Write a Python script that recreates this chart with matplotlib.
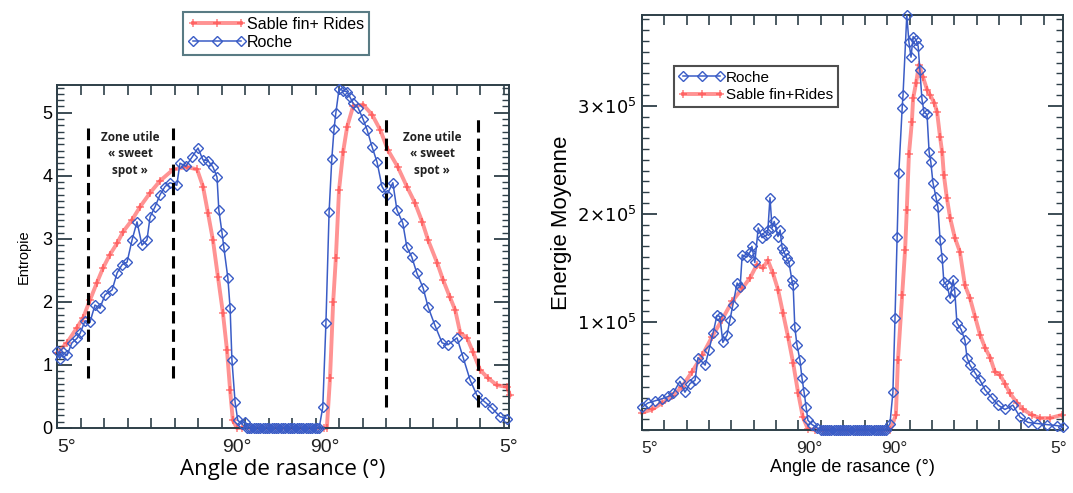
import matplotlib.pyplot as plt
from matplotlib.ticker import MultipleLocator

plt.rcParams['font.family'] = ['Liberation Sans', 'DejaVu Sans']

# x runs in arbitrary position units (0..100) across each panel:
# first half goes 5 deg -> 90 deg, second half 90 deg -> 5 deg
tick_pos_left = [2.2, 39.8, 59.3, 100.0]
tick_pos_right = [1.9, 39.7, 59.9, 99.0]
tick_labels = ['5°', '90°', '90°', '5°']

# ---- Entropie panel ----
ent_roche_x = [0, 0.6, 1.3, 2.2, 3.3, 4.4, 5.1, 6.2, 7.3, 8.4, 9.5, 10.6, 12.2, 13.3,
               14.4, 15.5, 16.6, 17.7, 18.8, 19.9, 20.6, 21.7, 22.8, 23.9, 25.0, 26.5,
               27.2, 28.5, 29.9, 31.2, 32.3, 33.4, 34.5, 35.4, 35.8, 36.5, 36.9, 37.8,
               38.3, 38.7, 39.4, 40.0, 40.9, 41.5, 42, 42.5, 43, 43.5, 44, 44.5, 45,
               45.5, 46, 46.5, 47, 47.5, 48, 48.5, 49, 49.5, 50, 50.5, 51, 51.5, 52,
               52.5, 53, 53.5, 54, 54.5, 55, 55.5, 56, 56.5, 57, 57.5, 58,
               58.8, 59.5, 60.2, 60.8, 61.3, 61.7, 62.4,
               63.3, 64.2, 64.8, 65.5, 66.6, 67.7, 68.6, 69.7, 70.8, 71.9, 73.0, 74.3,
               75.2, 76.5, 77.4, 78.5, 79.6, 81.0, 82.1, 83.6, 85.2, 86.5, 88.5, 89.8,
               91.4, 92.9, 94.7, 96.2, 98.0, 99.6]
ent_roche_y = [1.22, 1.1, 1.2, 1.15, 1.35, 1.42, 1.5, 1.7, 1.68, 1.95, 1.9, 2.11, 2.19, 2.46,
               2.59, 2.63, 2.98, 3.27, 2.9, 2.98, 3.35, 3.51, 3.7, 3.83, 3.89, 3.85,
               4.2, 4.15, 4.3, 4.44, 4.25, 4.24, 4.14, 3.98, 3.46, 3.1, 2.87, 2.38,
               1.9, 1.08, 0.41, 0.12, 0.07, 0.1, 0, 0, 0, 0, 0, 0, 0,
               0, 0, 0, 0, 0, 0, 0, 0, 0, 0, 0, 0, 0, 0,
               0, 0, 0, 0, 0, 0, 0, 0, 0, 0, 0, 0,
               0.33, 1.67, 3.43, 4.27, 4.75, 5.0, 5.38,
               5.35, 5.33, 5.25, 5.15, 5.08, 4.9, 4.73, 4.46, 4.22, 3.83, 3.7, 3.89,
               3.46, 3.25, 2.87, 2.71, 2.46, 2.22, 1.92, 1.63, 1.35, 1.32, 1.43, 1.13,
               0.76, 0.52, 0.41, 0.32, 0.18, 0.15]

ent_sable_x = [0, 2.2, 4.4, 5.8, 7.3, 8.8, 10.2, 11.7, 13.3, 14.6, 16.6, 18.4, 20.6, 22.8,
               25.7, 28.8, 31.0, 32.3, 33.4, 34.5, 35.6, 36.7, 37.6, 38.3, 38.9, 39.8,
               41, 43, 45, 47, 49, 51, 53, 55, 57, 59, 59.7, 60.4, 61.1, 61.7, 62.4,
               63.3, 64.2, 65.5, 67.7, 69.7, 71.5, 73.2, 75.4, 77.4, 79.2, 80.8, 82.1,
               84.1, 85.4, 86.9, 88.1, 89.2, 90.7, 92.0, 93.6, 95.4, 97.3, 99.6, 100.2]
ent_sable_y = [1.19, 1.35, 1.59, 1.75, 2.03, 2.3, 2.54, 2.75, 2.93, 3.11, 3.3, 3.51, 3.73, 3.92,
               4.1, 4.14, 4.1, 3.83, 3.41, 2.98, 2.4, 1.83, 1.24, 0.6, 0.12, 0.0,
               0, 0, 0, 0, 0, 0, 0, 0, 0, 0, 0.0, 0.79, 2.0, 2.7, 3.78,
               4.38, 4.78, 5.1, 5.13, 4.97, 4.73, 4.41, 4.14, 3.83, 3.57, 3.27, 2.98,
               2.62, 2.35, 2.08, 1.87, 1.51, 1.43, 1.21, 0.92, 0.79, 0.68, 0.65, 0.52]

zone_left = [6.9, 25.7]
zone_right = [72.8, 93.1]

# ---- Energie Moyenne panel (values in units of 1e5) ----
en_roche_x = [0, 1.4, 3.1, 4.8, 6.2, 7.4, 9.0, 10.2, 11.4, 12.6, 13.3, 15.0, 15.9, 16.9,
              17.8, 18.5, 19.2, 20.2, 20.9, 21.6, 22.6, 23.3, 23.8, 24.9, 25.7, 26.1,
              26.8, 27.6, 28.5, 29.5, 29.9, 30.4, 30.9, 31.4, 32.3, 32.8, 33.3, 33.7,
              34.4, 34.9, 35.6, 35.9, 36.3, 36.8, 37.5, 38.0, 38.5, 39.0, 39.4, 40.4,
              41.6, 42.5, 43, 43.5, 44, 44.5, 45, 45.5, 46, 46.5, 47, 47.5, 48, 48.5,
              49, 49.5, 50, 50.5, 51, 51.5, 52, 52.5, 53, 53.5, 54, 54.5, 55, 55.5,
              56, 56.5, 57, 57.5, 58,
              58.9, 59.6, 60.1, 60.6, 61.0, 61.8, 62.0, 62.9, 63.4, 63.9, 64.4, 65.1,
              65.6, 66.0, 66.5, 67.0, 67.7, 68.2, 68.6, 69.1, 69.8, 70.3, 70.8, 71.3,
              71.7, 72.4, 73.2, 73.9, 74.3, 74.8, 75.8, 76.7, 77.2, 77.9, 79.1, 80.3,
              81.5, 83.1, 84.6, 86.2, 88.1, 89.8, 91.7, 93.8, 96.2, 98.6, 100]
en_roche_y = [0.21, 0.25, 0.27, 0.29, 0.31, 0.34, 0.45, 0.35, 0.43, 0.46, 0.67, 0.6, 0.74, 0.9,
              1.06, 1.05, 0.81, 0.88, 1.02, 1.16, 1.36, 1.32, 1.62, 1.6, 1.65, 1.7,
              1.55, 1.87, 1.78, 1.8, 1.85, 2.15, 1.87, 1.93, 1.79, 1.85, 1.68, 1.65,
              1.59, 1.55, 1.39, 1.34, 0.95, 0.79, 0.65, 0.48, 0.35, 0.21, 0.09, 0.05,
              0.02, 0, 0, 0, 0, 0, 0, 0, 0, 0, 0, 0, 0, 0,
              0, 0, 0, 0, 0, 0, 0, 0, 0, 0, 0, 0, 0, 0,
              0, 0, 0, 0, 0,
              0.06, 0.35, 1.04, 1.79, 2.38, 2.98, 3.1, 3.84, 3.59, 3.45, 3.64, 3.61,
              3.55, 3.33, 3.06, 2.94, 2.92, 2.57, 2.48, 2.29, 2.16, 2.06, 1.76, 1.59,
              1.37, 1.34, 1.22, 1.39, 1.28, 0.99, 0.93, 0.83, 0.67, 0.6, 0.53, 0.46,
              0.37, 0.3, 0.23, 0.19, 0.23, 0.12, 0.07, 0.06, 0.05, 0.04, 0.03]

en_sable_x = [0, 2.4, 4.8, 7.1, 9.5, 11.9, 14.3, 16.6, 19.0, 21.4, 23.8, 25.7, 27.3, 28.7,
              29.9, 31.1, 32.3, 33.5, 34.7, 35.9, 37.1, 38.2, 39.4, 41, 43, 45, 47, 49,
              51, 53, 55, 57, 59, 60.3, 60.8, 61.8, 62.5, 62.9, 63.4, 64.1, 64.4, 65.1,
              65.8, 66.7, 67.7, 68.4, 69.4, 70.1, 70.8, 71.3, 71.7, 72.4, 73.2, 74.3,
              75.5, 76.7, 77.9, 79.1, 80.3, 81.5, 82.7, 83.8, 85.0, 86.2, 87.4, 89.1,
              90.5, 92.6, 94.5, 96.9, 99.8]
en_sable_y = [0.16, 0.19, 0.25, 0.31, 0.4, 0.54, 0.69, 0.86, 1.02, 1.19, 1.31, 1.41, 1.53, 1.5,
              1.57, 1.45, 1.3, 1.08, 0.86, 0.62, 0.34, 0.12, 0.01, 0, 0, 0, 0, 0,
              0, 0, 0, 0, 0, 0.14, 0.65, 1.25, 1.67, 2.04, 2.55, 2.85, 3.07, 3.21,
              3.38, 3.27, 3.15, 3.1, 3.03, 2.94, 2.71, 2.57, 2.36, 2.15, 1.96, 1.78,
              1.65, 1.34, 1.22, 1.05, 0.88, 0.76, 0.67, 0.54, 0.51, 0.43, 0.34, 0.25,
              0.19, 0.14, 0.11, 0.11, 0.14]

blue = '#3a5cc6'
red = '#ff3a3a'
edge = '#2e3f48'

fig = plt.figure(figsize=(10.73, 4.93), dpi=100)
ax1 = fig.add_axes([57 / 1073, 65 / 493, 452 / 1073, 343 / 493])
ax2 = fig.add_axes([642 / 1073, 63 / 493, 421 / 1073, 415 / 493])


def style_axes(ax, ticks, ymajor, yminor, xminor):
    for s in ax.spines.values():
        s.set_color(edge)
        s.set_linewidth(1.4)
    ax.set_xlim(0, 100)
    ax.set_xticks(ticks, tick_labels)
    ax.xaxis.set_minor_locator(MultipleLocator(xminor))
    ax.yaxis.set_major_locator(MultipleLocator(ymajor))
    ax.yaxis.set_minor_locator(MultipleLocator(yminor))
    ax.tick_params(axis='x', which='major', length=0, pad=8, labelsize=14,
                   colors='#222222')
    ax.tick_params(axis='x', which='minor', direction='in', length=7, width=1.2,
                   top=True, bottom=True, color=edge)
    ax.tick_params(axis='y', which='major', direction='in', length=11, width=1.3,
                   left=True, right=True, color=edge, labelsize=13)
    ax.tick_params(axis='y', which='minor', direction='in', length=5, width=1.0,
                   left=True, right=True, color=edge)


# left panel
ax1.plot(ent_sable_x, ent_sable_y, color=red, alpha=0.55, lw=2.8, marker='+',
         ms=6, mew=1.3, label='Sable fin+ Rides', zorder=2, clip_on=False)
ax1.plot(ent_roche_x, ent_roche_y, color=blue, lw=1.1, marker='D', ms=5.3,
         mfc='none', mec=blue, mew=1.0, label='Roche', zorder=3, clip_on=False)
ax1.vlines(zone_left, 0.79, 4.76, colors='black', linestyles=(0, (4, 2)), lw=2.2, zorder=4)
ax1.vlines(zone_right, 0.33, 4.92, colors='black', linestyles=(0, (4, 2)), lw=2.2, zorder=4)
ax1.text(16.2, 4.35, 'Zone utile\n« sweet\nspot »', ha='center', va='center',
         fontsize=8.5, fontweight='bold', family=['Open Sans', 'DejaVu Sans'],
         linespacing=1.35, color='#222222')
ax1.text(83.0, 4.35, 'Zone utile\n« sweet\nspot »', ha='center', va='center',
         fontsize=8.5, fontweight='bold', family=['Open Sans', 'DejaVu Sans'],
         linespacing=1.35, color='#222222')
style_axes(ax1, tick_pos_left, 1, 0.1, 5.2)
ax1.set_ylim(0, 5.44)
ax1.set_ylabel('Entropie', fontsize=10.5, labelpad=8)
ax1.set_xlabel('Angle de rasance (°)', fontsize=16, labelpad=2,
               family=['Open Sans', 'DejaVu Sans'])
fig.legend(handles=ax1.get_lines(), loc='upper left',
           bbox_to_anchor=(183 / 1073, 1 - 12 / 493), fontsize=11.5, numpoints=3,
           frameon=True, fancybox=False, edgecolor='#2f5a66', handlelength=3.6,
           handletextpad=0.1, borderpad=0.3, labelspacing=0.2, borderaxespad=0)
fig.legends[0].get_frame().set_linewidth(1.5)

# right panel
scale = 1e5
ax2.plot(en_roche_x, [v * scale for v in en_roche_y], color=blue, lw=1.1, marker='D',
         ms=5.3, mfc='none', mec=blue, mew=1.0, label='Roche', zorder=3, clip_on=False)
ax2.plot(en_sable_x, [v * scale for v in en_sable_y], color=red, alpha=0.55, lw=2.8,
         marker='+', ms=6, mew=1.3, label='Sable fin+Rides', zorder=2, clip_on=False)
style_axes(ax2, tick_pos_right, 1e5, 1e4, 5.3)
ax2.set_ylim(0, 3.84e5)
ax2.set_yticks([1e5, 2e5, 3e5],
               [r'$1\!\times\!10^5$', r'$2\!\times\!10^5$', r'$3\!\times\!10^5$'])
ax2.tick_params(axis='y', which='major', labelsize=13)
ax2.set_ylabel('Energie Moyenne', fontsize=16, labelpad=4)
ax2.set_xlabel('Angle de rasance (°)', fontsize=13, labelpad=2)
ax2.tick_params(axis='x', which='major', labelsize=12.5)
leg2 = ax2.legend(loc='upper left', bbox_to_anchor=(32 / 421, 1 - 51 / 415),
                  fontsize=11, numpoints=3, frameon=True, fancybox=False,
                  edgecolor='#222222', handlelength=3.0, handletextpad=0.1,
                  borderpad=0.3, labelspacing=0.25, borderaxespad=0)
leg2.get_frame().set_linewidth(1.5)

fig.savefig('out.png', dpi=100)
